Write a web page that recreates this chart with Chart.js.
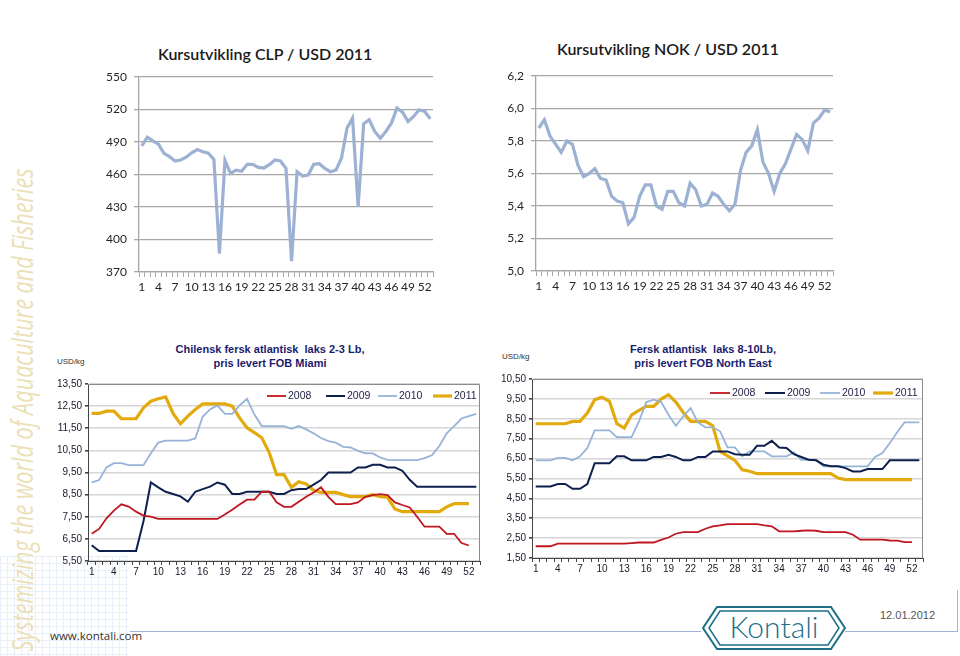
<!DOCTYPE html>
<html>
<head>
<meta charset="utf-8">
<script src="https://cdn.jsdelivr.net/npm/chart.js@4.4.1/dist/chart.umd.min.js"></script>
<style>
  body { margin: 0; width: 960px; height: 656px; position: relative; overflow: hidden; background: #fff; font-family: "Liberation Sans", Arial, sans-serif; }
  .abs { position: absolute; }
  canvas { position: absolute; }
  .fxTitle { font-family: Lato, "Open Sans", sans-serif; font-size: 16px; font-weight: 600; color: #1a1a1a; white-space: nowrap; }
  .salmonTitle { font-size: 11px; font-weight: bold; color: #1c1c6e; text-align: center; line-height: 14px; white-space: pre; }
  .unit { font-size: 8px; color: #333; }
  .side { left: -338px; top: 386px; width: 720px; height: 48px; line-height: 48px; text-align: center;
          transform: rotate(-90deg) scaleX(0.72);
          font-family: "Open Sans", sans-serif; font-style: italic; font-weight: 400; font-size: 30px; color: #ebe0b6; white-space: nowrap; }
  .grid { left: 0; top: 556px; width: 128px; height: 100px; opacity: 0.6;
          background-image: linear-gradient(#d9e6f2 1px, transparent 1px), linear-gradient(90deg, #d9e6f2 1px, transparent 1px);
          background-size: 7px 7px; }
</style>
</head>
<body>
<div class="abs grid"></div>
<div class="abs side">Systemizing the world of Aquaculture and Fisheries</div>

<div class="abs fxTitle" style="left:158px;top:44px;">Kursutvikling CLP / USD 2011</div>
<div class="abs fxTitle" style="left:557px;top:39px;">Kursutvikling NOK / USD 2011</div>

<div class="abs salmonTitle" style="left:170px;top:342px;width:200px;">Chilensk fersk atlantisk  laks 2-3 Lb,
pris levert FOB Miami</div>
<div class="abs salmonTitle" style="left:603px;top:342px;width:200px;">Fersk atlantisk  laks 8-10Lb,
pris levert FOB North East</div>
<div class="abs unit" style="left:57px;top:357px;">USD/kg</div>
<div class="abs unit" style="left:502px;top:352px;">USD/kg</div>

<canvas id="clpChart" width="360" height="245" style="left:90px;top:60px;"></canvas>
<canvas id="nokChart" width="360" height="245" style="left:490px;top:60px;"></canvas>
<canvas id="miamiChart" width="445" height="212" style="left:45px;top:375px;"></canvas>
<canvas id="northEastChart" width="440" height="215" style="left:490px;top:370px;"></canvas>

<div class="abs" style="left:130px;top:631px;width:571px;height:1px;background:#9fb5d4;"></div>
<div class="abs" style="left:845px;top:631px;width:112px;height:1px;background:#9fb5d4;"></div>
<div class="abs" style="left:957px;top:590px;width:1px;height:42px;background:#9fb5d4;"></div>
<div class="abs" style="left:50px;top:628px;font-family:'Open Sans',sans-serif;font-size:11.5px;color:#333;">www.kontali.com</div>
<div class="abs" style="left:880px;top:609px;font-size:11px;color:#555;">12.01.2012</div>
<svg class="abs" style="left:702px;top:605px;" width="144" height="46" viewBox="0 0 144 46">
  <polygon points="1,23 15,2 129,2 143,23 129,44 15,44" fill="none" stroke="#1d6f86" stroke-width="2"/>
  <polygon points="7,23 18,6 126,6 137,23 126,40 18,40" fill="none" stroke="#1d6f86" stroke-width="1.5"/>
  <text x="72" y="33" text-anchor="middle" font-family="Lato, sans-serif" font-weight="300" font-size="30" fill="#1d6f86">Kontali</text>
</svg>

<script>
// uker (kategorier) og viste aksetekster
const weeks = ["1","2","3","4","5","6","7","8","9","10","11","12","13","14","15","16","17","18","19","20",
  "21","22","23","24","25","26","27","28","29","30","31","32","33","34","35","36","37","38","39","40",
  "41","42","43","44","45","46","47","48","49","50","51","52","53"];
const shownWeeks = ["1","4","7","10","13","16","19","22","25","28","31","34","37","40","43","46","49","52"];

// Kursutvikling 2011
const clpUsd = [486.4, 494.4, 491, 488, 479.6, 476.5, 472.5, 473.4, 476, 480, 483, 481, 479.6, 474, 387,
  473, 461, 464, 463, 469.4, 469.4, 466.6, 466, 469, 473.4, 472.5, 465.7, 380, 462.6, 458.6, 459.5, 469.4,
  470, 465.7, 462.6, 464, 475, 502.8, 512, 430.2, 506.8, 510.5, 499.7, 493.5, 499.7, 507.4, 521.3, 517.6,
  509, 513.6, 519.7, 518.2, 511.4];
const nokUsd = [5.88, 5.93, 5.83, 5.78, 5.73, 5.80, 5.78, 5.65, 5.58, 5.60, 5.63, 5.57, 5.56, 5.46, 5.43,
  5.42, 5.29, 5.33, 5.46, 5.53, 5.53, 5.40, 5.38, 5.49, 5.49, 5.42, 5.40, 5.54, 5.50, 5.40, 5.41, 5.48,
  5.46, 5.41, 5.37, 5.41, 5.62, 5.73, 5.77, 5.87, 5.67, 5.60, 5.49, 5.60, 5.66, 5.75, 5.84, 5.81, 5.74,
  5.91, 5.94, 5.99, 5.98];

// Chilensk laks 2-3 Lb, FOB Miami (USD/kg)
const miami2008 = [6.73, 6.95, 7.43, 7.78, 8.06, 7.96, 7.73, 7.55, 7.51, 7.40, 7.40, 7.40, 7.40, 7.40, 7.40,
  7.40, 7.40, 7.40, 7.60, 7.82, 8.05, 8.27, 8.27, 8.63, 8.63, 8.15, 7.95, 7.95, 8.18, 8.40, 8.60, 8.83,
  8.40, 8.07, 8.07, 8.07, 8.15, 8.40, 8.48, 8.52, 8.48, 8.15, 8.03, 7.92, 7.50, 7.05, 7.05, 7.05, 6.73,
  6.73, 6.31, 6.20];
const miami2009 = [6.21, 5.95, 5.95, 5.95, 5.95, 5.95, 5.95, 7.30, 9.05, 8.83, 8.63, 8.53, 8.42, 8.18, 8.63,
  8.75, 8.86, 9.05, 8.95, 8.53, 8.53, 8.63, 8.63, 8.63, 8.63, 8.53, 8.53, 8.70, 8.75, 8.75, 8.95, 9.16,
  9.50, 9.50, 9.50, 9.50, 9.73, 9.73, 9.85, 9.85, 9.73, 9.73, 9.58, 9.17, 8.86, 8.86, 8.86, 8.86, 8.86,
  8.86, 8.86, 8.86, 8.86];
const miami2010 = [9.05, 9.16, 9.73, 9.92, 9.92, 9.83, 9.83, 9.83, 10.37, 10.85, 10.94, 10.94, 10.94, 10.94,
  11.04, 12.02, 12.35, 12.53, 12.15, 12.15, 12.53, 12.83, 12.12, 11.60, 11.60, 11.60, 11.60, 11.48, 11.60,
  11.45, 11.27, 11.06, 10.92, 10.85, 10.66, 10.63, 10.48, 10.37, 10.36, 10.18, 10.07, 10.06, 10.06, 10.06,
  10.06, 10.15, 10.28, 10.70, 11.27, 11.60, 11.94, 12.05, 12.15];
const miami2011 = [12.17, 12.17, 12.27, 12.27, 11.93, 11.93, 11.93, 12.42, 12.72, 12.83, 12.92, 12.17, 11.70,
  12.05, 12.35, 12.60, 12.60, 12.60, 12.60, 12.50, 11.97, 11.52, 11.30, 11.07, 10.40, 9.40, 9.40, 8.83,
  9.08, 8.98, 8.70, 8.60, 8.60, 8.60, 8.50, 8.41, 8.41, 8.41, 8.50, 8.41, 8.38, 7.85, 7.73, 7.73, 7.73,
  7.73, 7.73, 7.73, 7.95, 8.09, 8.09, 8.09];

// Fersk laks 8-10 Lb, FOB North East (USD/kg)
const ne2008 = [2.09, 2.09, 2.09, 2.22, 2.22, 2.22, 2.22, 2.22, 2.22, 2.22, 2.22, 2.22, 2.22, 2.25, 2.28,
  2.28, 2.28, 2.41, 2.53, 2.72, 2.80, 2.80, 2.80, 2.97, 3.09, 3.14, 3.20, 3.20, 3.20, 3.20, 3.20, 3.14,
  3.09, 2.84, 2.84, 2.84, 2.87, 2.89, 2.87, 2.80, 2.80, 2.80, 2.80, 2.67, 2.42, 2.42, 2.42, 2.42, 2.38,
  2.37, 2.30, 2.30];
const ne2009 = [5.10, 5.10, 5.10, 5.22, 5.22, 4.98, 4.98, 5.22, 6.27, 6.27, 6.27, 6.61, 6.61, 6.41, 6.41,
  6.41, 6.58, 6.58, 6.69, 6.58, 6.41, 6.41, 6.58, 6.58, 6.86, 6.86, 6.86, 6.72, 6.69, 6.69, 7.14, 7.14,
  7.39, 7.06, 7.03, 6.72, 6.58, 6.44, 6.41, 6.19, 6.11, 6.11, 6.02, 5.85, 5.85, 5.97, 5.97, 5.97, 6.41,
  6.41, 6.41, 6.41, 6.41];
const ne2010 = [6.41, 6.41, 6.41, 6.53, 6.53, 6.41, 6.61, 7.03, 7.92, 7.92, 7.92, 7.58, 7.58, 7.58, 8.37,
  9.34, 9.46, 9.34, 8.70, 8.15, 8.62, 9.04, 8.32, 8.07, 8.07, 7.87, 7.06, 7.06, 6.61, 6.86, 6.86, 6.86,
  6.61, 6.61, 6.61, 6.81, 6.44, 6.44, 6.44, 6.11, 6.11, 6.11, 6.11, 6.11, 6.11, 6.11, 6.58, 6.78, 7.28,
  7.82, 8.32, 8.32, 8.32];
const ne2011 = [8.25, 8.25, 8.25, 8.25, 8.25, 8.37, 8.37, 8.79, 9.46, 9.58, 9.38, 8.25, 8.03, 8.70, 8.92,
  9.12, 9.12, 9.49, 9.71, 9.34, 8.82, 8.37, 8.37, 8.37, 8.15, 6.86, 6.64, 6.41, 5.94, 5.86, 5.74, 5.74,
  5.74, 5.74, 5.74, 5.74, 5.74, 5.74, 5.74, 5.74, 5.74, 5.52, 5.44, 5.44, 5.44, 5.44, 5.44, 5.44, 5.44,
  5.44, 5.44, 5.44];

const YEAR_STYLE = {
  "2008": { color: "#c0161f", width: 1.8 },
  "2009": { color: "#0e1f4d", width: 2 },
  "2010": { color: "#97b4d8", width: 1.8 },
  "2011": { color: "#e2aa0c", width: 3.2 },
};

// legende inne i plottet: xs = start for hver strek (canvas-koordinater)
const insideLegend = {
  id: "insideLegend",
  afterDatasetsDraw(chart, args, opts) {
    if (!opts.xs) return;
    const ctx = chart.ctx;
    ctx.save();
    ctx.font = "10.5px 'Liberation Sans', Arial, sans-serif";
    ctx.textBaseline = "middle";
    chart.data.datasets.forEach((ds, i) => {
      const x = opts.xs[i];
      ctx.strokeStyle = ds.borderColor;
      ctx.lineWidth = ds.borderWidth;
      ctx.beginPath();
      ctx.moveTo(x, opts.y);
      ctx.lineTo(x + opts.len, opts.y);
      ctx.stroke();
      ctx.fillStyle = "#23234a";
      ctx.fillText(ds.label, x + opts.len + 2, opts.y);
    });
    ctx.restore();
  },
};

// ramme oppe og til hoyre
const plotFrame = {
  id: "plotFrame",
  beforeDatasetsDraw(chart, args, opts) {
    if (!opts.color) return;
    const { left, right, top, bottom } = chart.chartArea;
    const ctx = chart.ctx;
    ctx.save();
    ctx.strokeStyle = opts.color;
    ctx.lineWidth = 1;
    ctx.beginPath();
    ctx.moveTo(left, top + 0.5);
    ctx.lineTo(right - 0.5, top + 0.5);
    ctx.lineTo(right - 0.5, bottom);
    ctx.stroke();
    ctx.restore();
  },
};

Chart.register(insideLegend, plotFrame);
Chart.defaults.animation = false;
Chart.defaults.responsive = false;

function weekTick(val) {
  const lbl = this.getLabelForValue(val);
  return shownWeeks.includes(lbl) ? lbl : "";
}

function fxChart(id, values, yMin, yMax, step, decimals, yWidth, pad, xHeight) {
  const fontFx = { family: "Lato, 'Open Sans', sans-serif", size: 12 };
  return new Chart(document.getElementById(id), {
    type: "line",
    data: {
      labels: weeks,
      datasets: [{ data: values, borderColor: "#9db1d3", borderWidth: 3.2, pointRadius: 0, tension: 0 }],
    },
    options: {
      layout: { autoPadding: false, padding: pad },
      plugins: { legend: { display: false }, tooltip: { enabled: false } },
      scales: {
        x: {
          offset: true,
          grid: { offset: true, drawOnChartArea: false, color: "#a6a6a6", tickLength: 5 },
          border: { color: "#a6a6a6", width: 1.3 },
          ticks: { autoSkip: false, maxRotation: 0, padding: 3, color: "#262626", font: fontFx, callback: weekTick },
          afterFit: (s) => { s.height = xHeight; },
        },
        y: {
          min: yMin, max: yMax,
          grid: { color: "#a6a6a6", lineWidth: 1.3, tickLength: 5 },
          border: { color: "#a6a6a6", width: 1.3 },
          ticks: {
            stepSize: step, padding: 7, color: "#262626", font: fontFx,
            callback: (v) => v.toFixed(decimals).replace(".", ","),
          },
          afterFit: (s) => { s.width = yWidth; },
        },
      },
    },
  });
}

function salmonChart(id, series, yMin, yMax, yWidth, pad, xHeight, legend) {
  const fontS = { family: "'Liberation Sans', Arial, sans-serif", size: 10 };
  const years = ["2008", "2009", "2010", "2011"];
  return new Chart(document.getElementById(id), {
    type: "line",
    data: {
      labels: weeks,
      datasets: years.map((yr, i) => ({
        label: yr,
        data: series[i],
        borderColor: YEAR_STYLE[yr].color,
        borderWidth: YEAR_STYLE[yr].width,
        pointRadius: 0,
        tension: 0,
      })),
    },
    options: {
      layout: { autoPadding: false, padding: pad },
      plugins: {
        legend: { display: false },
        tooltip: { enabled: false },
        insideLegend: legend,
        plotFrame: { color: "#8c8c8c" },
      },
      scales: {
        x: {
          offset: true,
          grid: { offset: true, drawOnChartArea: false, color: "#444", tickLength: 4 },
          border: { color: "#444", width: 1 },
          ticks: { autoSkip: false, maxRotation: 0, padding: 1, color: "#1a1a2a", font: fontS, callback: weekTick },
          afterFit: (s) => { s.height = xHeight; },
        },
        y: {
          min: yMin, max: yMax,
          grid: { color: "#d6d6d6", lineWidth: 1.6, tickLength: 3, tickColor: "#444" },
          border: { color: "#444", width: 1 },
          ticks: {
            stepSize: 1, padding: 3, color: "#1a1a2a", font: fontS,
            callback: (v) => v.toFixed(2).replace(".", ","),
          },
          afterFit: (s) => { s.width = yWidth; },
        },
      },
    },
  });
}

fxChart("clpChart", clpUsd, 370, 550, 30, 0, 49, { left: 0, top: 17, right: 17, bottom: 0 }, 33);
fxChart("nokChart", nokUsd, 5.0, 6.2, 0.2, 1, 46, { left: 0, top: 16, right: 17, bottom: 0 }, 34);
salmonChart("miamiChart", [miami2008, miami2009, miami2010, miami2011], 5.5, 13.5, 43,
  { left: 0, top: 8, right: 10, bottom: 0 }, 26, { xs: [222, 281, 333, 388], y: 21, len: 19 });
salmonChart("northEastChart", [ne2008, ne2009, ne2010, ne2011], 1.5, 10.5, 42,
  { left: 0, top: 9, right: 7, bottom: 0 }, 27, { xs: [220, 275, 330, 383], y: 23, len: 20 });
</script>
</body>
</html>
